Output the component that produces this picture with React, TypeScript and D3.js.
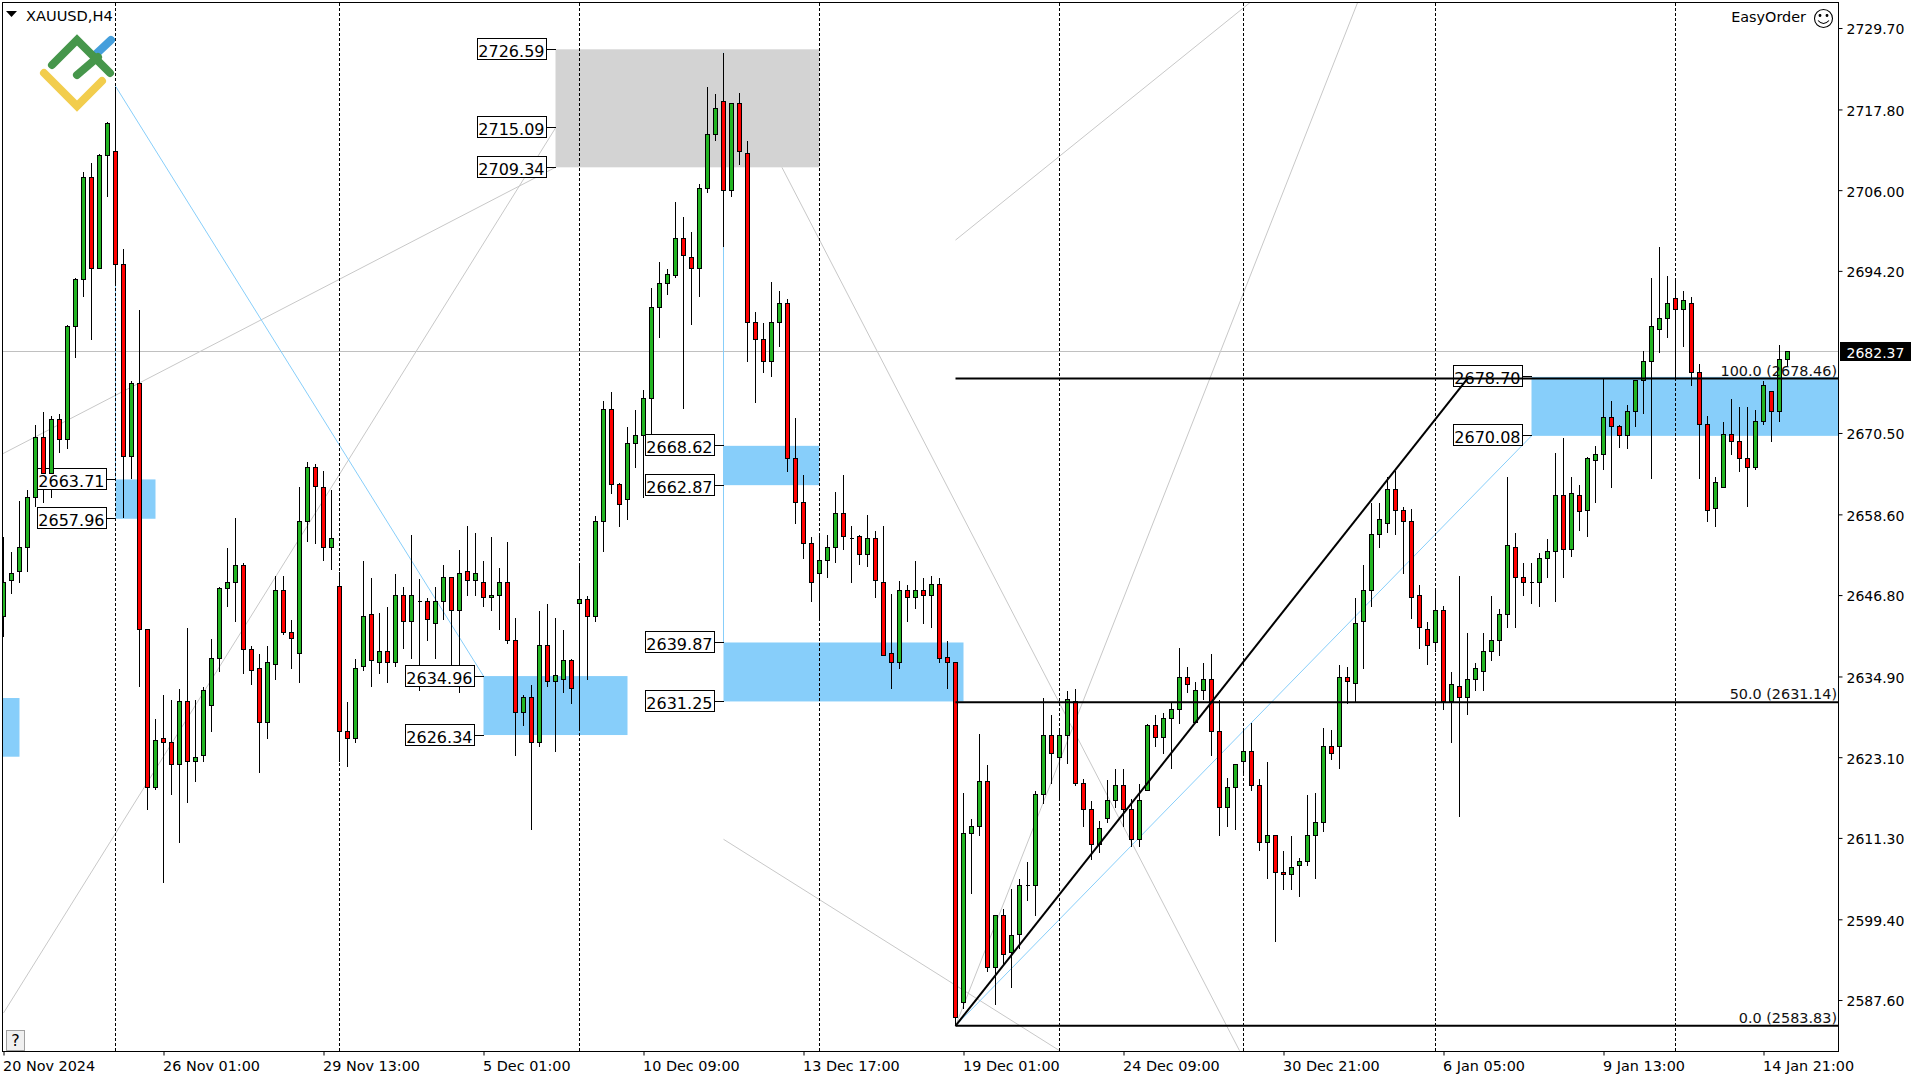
/**
 * XAUUSD H4 candlestick chart with supply/demand zones and a Fibonacci grid
 */

import { useEffect, useRef } from "react";
import * as d3 from "d3";

const highs = [
  2655.4,2653.1,2660.6,2662.3,2671.8,2673.6,2673.1,2673.4,2686.4,2693.2,
  2708.7,2710.1,2711.4,2716.1,2721.2,2697.4,2678.1,2688.6,2641.7,2628.8,
  2632.2,2631.5,2633.1,2642.0,2631.5,2633.5,2640.5,2648.0,2653.8,2658.2,
  2651.6,2639.5,2638.3,2639.5,2649.6,2649.6,2643.2,2662.7,2666.4,2666.0,
  2665.0,2662.3,2650.2,2631.2,2637.6,2651.8,2649.4,2644.3,2645.2,2650.0,
  2648.1,2655.6,2649.2,2646.4,2648.1,2651.3,2649.3,2653.5,2657.0,2655.9,
  2651.8,2655.4,2650.9,2654.6,2643.5,2632.3,2633.8,2644.5,2645.6,2643.5,
  2641.7,2637.5,2651.1,2646.7,2658.5,2675.3,2676.5,2663.3,2671.5,2673.9,
  2676.9,2691.8,2695.6,2694.5,2704.4,2702.1,2699.9,2706.9,2721.1,2720.1,
  2726.1,2718.6,2720.3,2713.3,2688.2,2686.7,2692.7,2691.3,2690.2,2672.8,
  2664.5,2655.3,2655.6,2655.6,2662.0,2664.4,2657.0,2655.7,2658.6,2656.3,
  2657.0,2647.0,2649.0,2648.3,2651.8,2649.4,2649.7,2649.4,2640.1,2636.9,
  2618.0,2614.2,2626.5,2622.0,2600.0,2601.0,2603.9,2605.4,2607.8,2618.3,
  2631.9,2629.4,2627.4,2632.9,2633.2,2620.0,2616.7,2613.8,2619.9,2621.5,
  2621.5,2617.1,2619.3,2628.0,2629.3,2629.6,2631.2,2639.1,2636.3,2634.2,
  2637.0,2638.2,2631.6,2620.2,2622.2,2627.1,2628.1,2620.0,2622.5,2611.6,
  2609.5,2611.6,2608.5,2617.7,2617.9,2627.5,2627.2,2636.6,2636.4,2646.4,
  2651.2,2660.4,2660.4,2664.1,2665.0,2659.7,2659.4,2648.3,2643.0,2647.4,
  2645.3,2635.7,2649.6,2641.3,2637.0,2641.3,2646.7,2644.9,2664.2,2656.0,
  2651.5,2651.5,2653.0,2655.1,2667.6,2669.8,2664.1,2663.0,2667.0,2668.6,
  2678.4,2675.3,2671.7,2674.7,2678.2,2682.6,2693.3,2697.8,2693.5,2693.2,
  2691.3,2690.4,2680.7,2673.0,2664.1,2672.2,2675.5,2674.4,2674.3,2674.0,
  2678.2,2676.5,2683.4,2682.5,
];

const lows = [
  2640.7,2647.1,2648.7,2650.3,2659.8,2660.3,2661.1,2667.7,2668.2,2681.5,
  2690.4,2684.2,2694.6,2705.0,2692.1,2658.1,2663.8,2633.5,2615.5,2618.4,
  2604.8,2617.7,2610.7,2616.5,2619.5,2622.5,2626.9,2635.7,2645.1,2643.0,
  2635.3,2633.8,2620.8,2625.8,2634.5,2641.0,2636.1,2634.0,2654.6,2654.4,
  2651.8,2650.6,2622.5,2621.7,2625.2,2635.8,2633.4,2635.3,2634.0,2636.3,
  2639.0,2637.6,2632.9,2640.1,2637.5,2643.2,2636.6,2632.5,2646.8,2646.8,
  2645.1,2644.5,2641.8,2639.7,2623.4,2627.8,2612.6,2624.7,2633.4,2624.0,
  2632.5,2630.9,2627.4,2634.5,2643.0,2653.2,2661.7,2656.8,2657.9,2665.5,
  2661.1,2669.9,2684.4,2690.7,2693.3,2674.1,2686.4,2690.4,2705.6,2713.3,
  2697.7,2705.1,2709.7,2681.0,2675.0,2679.3,2678.8,2683.2,2664.9,2657.3,
  2652.1,2645.9,2643.3,2649.4,2651.6,2653.4,2648.6,2651.3,2651.0,2646.4,
  2637.9,2633.2,2636.0,2643.0,2644.9,2642.7,2642.1,2637.0,2633.1,2583.83,
  2586.3,2603.2,2611.6,2591.7,2586.9,2592.7,2589.5,2595.2,2602.2,2600.0,
  2616.3,2619.3,2617.1,2622.2,2619.0,2612.9,2608.2,2609.2,2613.5,2615.8,
  2613.0,2610.1,2610.0,2618.2,2624.7,2623.6,2621.5,2628.0,2632.5,2628.2,
  2631.5,2623.4,2611.6,2612.9,2612.6,2620.9,2618.3,2609.4,2605.4,2596.1,
  2603.7,2603.8,2602.7,2607.3,2605.4,2612.3,2622.8,2621.5,2630.9,2631.2,
  2636.1,2645.1,2653.7,2656.0,2655.7,2649.9,2643.4,2639.0,2636.7,2638.5,
  2630.1,2625.2,2614.4,2629.4,2632.9,2632.9,2637.2,2638.0,2642.0,2642.1,
  2646.8,2645.6,2645.1,2649.4,2645.8,2649.3,2652.4,2656.2,2655.4,2660.4,
  2665.1,2662.5,2668.4,2668.3,2671.4,2673.4,2663.9,2682.3,2684.4,2678.5,
  2683.1,2677.4,2663.8,2657.6,2656.8,2662.6,2667.3,2664.8,2659.8,2665.2,
  2671.8,2669.2,2672.2,2680.4,
];

const opens = [
  2643.6,2649.0,2650.3,2653.7,2661.1,2669.9,2664.6,2672.4,2669.6,2686.0,
  2692.9,2707.9,2694.6,2711.0,2711.7,2695.2,2667.0,2677.7,2641.7,2618.7,
  2625.8,2625.3,2622.0,2631.3,2622.5,2623.3,2630.7,2637.5,2647.7,2648.7,
  2651.1,2638.9,2636.1,2628.1,2636.7,2647.5,2641.3,2638.2,2657.5,2665.4,
  2662.6,2653.8,2648.0,2626.9,2625.9,2636.3,2643.9,2636.9,2638.5,2636.9,
  2646.8,2642.9,2645.9,2645.9,2642.7,2645.8,2649.3,2644.5,2650.3,2648.9,
  2648.7,2646.4,2646.7,2648.7,2640.1,2629.7,2631.9,2625.3,2639.4,2634.2,
  2634.4,2637.3,2645.5,2646.1,2643.7,2657.6,2674.0,2663.0,2660.8,2669.0,
  2670.1,2675.5,2688.9,2692.4,2693.5,2698.9,2696.2,2694.6,2706.3,2714.1,
  2719.0,2705.9,2718.6,2711.4,2686.7,2684.2,2680.9,2686.6,2689.5,2666.7,
  2660.4,2654.4,2649.9,2651.9,2653.7,2658.8,2655.1,2655.3,2652.8,2655.0,
  2648.7,2638.2,2636.9,2647.4,2646.5,2647.4,2646.8,2648.4,2637.7,2636.9,
  2587.3,2611.9,2612.9,2619.5,2592.4,2599.9,2594.6,2597.2,2604.3,2604.3,
  2617.6,2626.2,2623.0,2626.2,2631.2,2619.3,2615.5,2610.4,2614.1,2616.8,
  2619.0,2615.4,2611.0,2618.2,2627.7,2626.0,2628.7,2630.0,2634.7,2628.2,
  2632.9,2634.5,2626.8,2615.7,2618.6,2622.4,2623.9,2619.0,2610.6,2611.6,
  2606.3,2606.0,2607.2,2607.9,2611.7,2613.5,2624.7,2624.6,2634.7,2633.9,
  2642.9,2647.5,2655.6,2657.2,2662.3,2659.2,2657.6,2646.7,2641.8,2639.8,
  2644.5,2631.2,2633.5,2631.8,2634.4,2635.6,2638.6,2640.2,2644.0,2653.8,
  2649.3,2648.7,2648.6,2652.1,2653.1,2661.3,2653.4,2661.3,2659.1,2666.5,
  2667.4,2672.8,2671.5,2670.2,2673.6,2678.1,2680.9,2685.6,2687.2,2690.1,
  2688.5,2689.5,2679.4,2671.7,2659.4,2662.6,2670.3,2669.2,2666.8,2665.4,
  2672.2,2676.5,2673.6,2681.2,
];

const closes = [
  2648.7,2650.0,2653.7,2661.1,2669.9,2664.6,2672.4,2669.6,2686.0,2692.9,
  2707.8,2694.5,2711.0,2715.8,2695.2,2667.0,2677.7,2641.7,2618.7,2625.5,
  2625.3,2622.0,2631.3,2622.5,2623.1,2632.9,2637.6,2647.7,2648.7,2651.1,
  2638.9,2635.8,2628.1,2636.9,2647.5,2641.3,2640.5,2657.5,2665.4,2662.7,
  2653.8,2655.1,2626.9,2625.9,2636.0,2643.6,2637.2,2638.6,2636.9,2646.8,
  2642.9,2646.7,2645.9,2643.3,2645.8,2649.3,2644.5,2650.0,2648.9,2649.9,
  2646.4,2646.8,2648.7,2640.1,2629.7,2631.9,2625.3,2639.4,2634.2,2635.0,
  2637.3,2633.2,2646.1,2643.7,2657.5,2673.9,2663.0,2660.1,2668.9,2670.1,
  2675.5,2688.9,2692.4,2693.6,2698.9,2696.4,2694.6,2706.3,2714.1,2717.9,
  2705.9,2718.6,2711.6,2686.6,2684.2,2680.9,2686.6,2689.5,2666.7,2660.4,
  2654.4,2648.6,2651.9,2653.7,2658.8,2655.3,2655.1,2652.7,2655.0,2648.9,
  2638.0,2636.9,2647.4,2646.5,2647.4,2646.8,2648.4,2637.6,2636.9,2585.0,
  2611.9,2613.0,2619.5,2592.4,2599.9,2594.3,2597.1,2604.4,2604.3,2617.7,
  2626.2,2623.6,2626.2,2631.5,2619.3,2615.5,2610.4,2612.7,2616.8,2618.9,
  2615.4,2611.0,2616.7,2627.7,2626.0,2628.7,2630.0,2634.7,2633.8,2632.9,
  2634.5,2626.9,2615.7,2618.6,2622.0,2624.0,2619.0,2610.6,2611.6,2606.3,
  2605.9,2607.0,2607.9,2611.7,2613.5,2624.7,2623.6,2634.7,2634.1,2642.7,
  2647.5,2655.6,2657.9,2662.3,2659.2,2657.6,2646.4,2642.0,2639.4,2644.5,
  2631.2,2633.7,2631.8,2634.4,2636.0,2638.6,2640.2,2643.9,2654.1,2649.3,
  2648.7,2648.7,2652.1,2653.1,2661.3,2653.4,2661.7,2659.0,2666.7,2667.4,
  2672.8,2671.5,2670.2,2673.6,2678.1,2681.0,2686.0,2687.2,2689.4,2688.5,
  2689.8,2679.4,2671.8,2659.2,2663.2,2670.3,2669.2,2666.7,2665.4,2672.2,
  2677.4,2673.6,2681.2,2682.37,
];

const priceTicks = [2729.7, 2717.8, 2706.0, 2694.2, 2670.5, 2658.6, 2646.8, 2634.9, 2623.1, 2611.3, 2599.4, 2587.6];
const bidPrice = 2682.37;

const timeTickBars = [0, 20, 40, 60, 80, 100, 120, 140, 160, 180, 200, 220];
const timeTickLabels = [
  "20 Nov 2024", "26 Nov 01:00", "29 Nov 13:00", "5 Dec 01:00", "10 Dec 09:00", "13 Dec 17:00",
  "19 Dec 01:00", "24 Dec 09:00", "30 Dec 21:00", "6 Jan 05:00", "9 Jan 13:00", "14 Jan 21:00",
];

// Period separators, as bar numbers
const separatorBars = [14, 42, 72, 102, 132, 155, 179, 209];

// Zones: first bar, last bar, upper price, lower price, labelled prices
const blueZones = [
  { from: -4, to: 2, top: 2631.75, bottom: 2623.17, labels: [] as number[] },
  { from: 14, to: 19, top: 2663.71, bottom: 2657.96, labels: [2663.71, 2657.96] },
  { from: 60, to: 78, top: 2634.96, bottom: 2626.34, labels: [2634.96, 2626.34] },
  { from: 90, to: 102, top: 2668.62, bottom: 2662.87, labels: [2668.62, 2662.87] },
  { from: 90, to: 120, top: 2639.87, bottom: 2631.25, labels: [2639.87, 2631.25] },
  { from: 191, to: 232, top: 2678.7, bottom: 2670.08, labels: [2678.7, 2670.08] },
];
const grayZones = [
  { from: 69, to: 102, top: 2726.59, bottom: 2709.34, labels: [2726.59, 2715.09, 2709.34] },
];

// Trend lines: [bar, price, bar, price]
const silverLines = [
  [-0.2, 2667.4, 69, 2709.34],
  [0, 2585.7, 69, 2715.09],
  [97.3, 2709.34, 154.5, 2580.2],
  [119, 2583.83, 169.25, 2733.4],
  [119, 2698.7, 156, 2733.6],
  [90, 2611.1, 132, 2580.2],
];
const blueLines = [
  [14, 2721.2, 60, 2634.96],
  [14, 2721.2, 14, 2663.71],
  [90, 2726.1, 90, 2639.87],
  [119, 2583.83, 191, 2670.08],
];
const fibLevels = [
  { name: "100.0", price: 2678.46 },
  { name: "50.0", price: 2631.14 },
  { name: "0.0", price: 2583.83 },
];
const fibStartBar = 119;
const fibTrend = [119, 2583.83, 183, 2678.46];

const FONT = "'DejaVu Sans', sans-serif";
const GREEN = "#22b422";
const RED = "#ff0000";
const ZONE_BLUE = "#87cefa";
const ZONE_GRAY = "#d3d3d3";
const SILVER = "#c8c8c8";

export default function App() {
  const svgRef = useRef<SVGSVGElement>(null);

  useEffect(() => {
    if (!svgRef.current) return;
    const svg = d3.select(svgRef.current);
    svg.selectAll("*").remove();

    const plot = { left: 2.5, right: 1838.5, top: 2.5, bottom: 1051.5 };
    const x = d3.scaleLinear().domain([0, 223]).range([3.5, 1787.5]);
    const y = d3.scaleLinear().domain([2733.8, 2580]).range([0, 1052]);
    const py = (p: number) => Math.round(y(p) - 0.5) + 0.5;

    svg.append("defs").append("clipPath").attr("id", "plot-clip")
      .append("rect")
      .attr("x", plot.left).attr("y", plot.top)
      .attr("width", plot.right - plot.left).attr("height", plot.bottom - plot.top);

    const g = svg.append("g").attr("clip-path", "url(#plot-clip)");

    const drawTrend = (sel: any, rows: number[][], color: string, width: number) => {
      sel.selectAll(null).data(rows).join("line")
        .attr("x1", (d: number[]) => x(d[0])).attr("y1", (d: number[]) => y(d[1]))
        .attr("x2", (d: number[]) => x(d[2])).attr("y2", (d: number[]) => y(d[3]))
        .attr("stroke", color).attr("stroke-width", width);
    };

    // Bid line and light trend lines sit at the back
    g.append("line")
      .attr("x1", plot.left).attr("x2", plot.right)
      .attr("y1", py(bidPrice)).attr("y2", py(bidPrice))
      .attr("stroke", "#c0c0c0").attr("shape-rendering", "crispEdges");
    drawTrend(g, silverLines, SILVER, 1);

    // Zones
    const drawZones = (rows: typeof blueZones, color: string) => {
      g.selectAll(null).data(rows).join("rect")
        .attr("x", (d) => x(d.from))
        .attr("y", (d) => y(d.top))
        .attr("width", (d) => x(d.to) - x(d.from))
        .attr("height", (d) => y(d.bottom) - y(d.top))
        .attr("fill", color);
    };
    drawZones(grayZones, ZONE_GRAY);
    drawZones(blueZones, ZONE_BLUE);
    drawTrend(g, blueLines, ZONE_BLUE, 1);

    // Period separators
    g.selectAll(null).data(separatorBars).join("line")
      .attr("x1", (d) => x(d)).attr("x2", (d) => x(d))
      .attr("y1", plot.top).attr("y2", plot.bottom)
      .attr("stroke", "#000").attr("stroke-dasharray", "3,2")
      .attr("shape-rendering", "crispEdges");

    // Wicks
    g.append("g").selectAll("line").data(highs).join("line")
      .attr("x1", (_, i) => x(i)).attr("x2", (_, i) => x(i))
      .attr("y1", (d) => py(d)).attr("y2", (_, i) => py(lows[i]))
      .attr("stroke", "#000").attr("shape-rendering", "crispEdges");

    // Label boxes go over the wicks but under the candle bodies
    const labelled = [...blueZones, ...grayZones].flatMap((z) =>
      z.labels.map((price) => ({ price, right: x(z.from) - 10, edge: x(z.from) }))
    );
    const boxW = 69;
    const boxH = 21;
    g.selectAll(null).data(labelled).join("rect")
      .attr("x", (d) => Math.round(d.right - boxW) + 0.5)
      .attr("y", (d) => py(d.price) - Math.round(boxH / 2))
      .attr("width", boxW).attr("height", boxH)
      .attr("fill", "#fff").attr("stroke", "#000").attr("shape-rendering", "crispEdges");
    g.selectAll(null).data(labelled).join("line")
      .attr("x1", (d) => d.right).attr("x2", (d) => d.edge)
      .attr("y1", (d) => py(d.price)).attr("y2", (d) => py(d.price))
      .attr("stroke", "#000").attr("shape-rendering", "crispEdges");

    // Candle bodies
    g.append("g").selectAll("path").data(opens).join("path")
      .attr("d", (d, i) => {
        const top = py(Math.max(d, closes[i]));
        const bottom = py(Math.min(d, closes[i]));
        return `M${x(i) - 2},${top}h4V${bottom}h-4Z`;
      })
      .attr("fill", (d, i) => (closes[i] >= d ? GREEN : RED))
      .attr("stroke", "#000").attr("shape-rendering", "crispEdges");

    // Fibonacci grid
    g.selectAll(null).data(fibLevels).join("line")
      .attr("x1", x(fibStartBar)).attr("x2", plot.right)
      .attr("y1", (d) => y(d.price)).attr("y2", (d) => y(d.price))
      .attr("stroke", "#000").attr("stroke-width", 2);
    drawTrend(g, [fibTrend], "#000", 2);

    const texts = svg.append("g").attr("font-family", FONT).attr("fill", "#000");

    texts.selectAll(null).data(fibLevels).join("text")
      .attr("x", plot.right - 1.5)
      .attr("y", (d) => y(d.price) - 3)
      .attr("text-anchor", "end")
      .attr("font-size", 14.4)
      .attr("fill", "#111")
      .text((d) => `${d.name} (${d.price.toFixed(2)})`);

    texts.selectAll(null).data(labelled).join("text")
      .attr("x", (d) => d.right - 1)
      .attr("y", (d) => py(d.price) + 7)
      .attr("text-anchor", "end")
      .attr("font-size", 16)
      .text((d) => d.price.toFixed(2));

    // Frame
    svg.append("rect")
      .attr("x", plot.left).attr("y", plot.top)
      .attr("width", plot.right - plot.left).attr("height", plot.bottom - plot.top)
      .attr("fill", "none").attr("stroke", "#000").attr("shape-rendering", "crispEdges");

    // Price axis
    const priceAxis = svg.append("g")
      .attr("transform", `translate(${plot.right},0)`)
      .call(
        d3.axisRight(y)
          .tickValues(priceTicks)
          .tickSize(4)
          .tickPadding(4)
          .tickFormat((d) => (d as number).toFixed(2))
      );
    priceAxis.select(".domain").remove();
    priceAxis.selectAll("text")
      .attr("font-family", FONT).attr("font-size", 14).attr("fill", "#000")
      .attr("dy", "0.42em");

    svg.append("rect")
      .attr("x", 1840).attr("y", py(bidPrice) - 9.5)
      .attr("width", 71).attr("height", 19).attr("fill", "#000");
    svg.append("text")
      .attr("x", 1846.5).attr("y", py(bidPrice) + 6)
      .attr("font-family", FONT).attr("font-size", 14).attr("fill", "#fff")
      .text(bidPrice.toFixed(2));

    // Time axis
    const timeAxis = svg.append("g")
      .attr("transform", `translate(0,${plot.bottom})`)
      .call(
        d3.axisBottom(x)
          .tickValues(timeTickBars)
          .tickSize(4)
          .tickPadding(4)
          .tickFormat((_, i) => timeTickLabels[i])
      );
    timeAxis.select(".domain").remove();
    timeAxis.selectAll("text")
      .attr("font-family", FONT).attr("font-size", 14.4).attr("fill", "#000")
      .attr("text-anchor", "start").attr("dx", -1).attr("dy", "0.78em");

    // Symbol header
    svg.append("path").attr("d", "M6,11L17,11L11.5,17Z").attr("fill", "#000");
    svg.append("text")
      .attr("x", 26).attr("y", 21)
      .attr("font-family", FONT).attr("font-size", 14.6).attr("fill", "#000")
      .text("XAUUSD,H4");

    // Broker logo
    const logo = svg.append("g")
      .attr("fill", "none").attr("stroke-width", 8)
      .attr("stroke-linecap", "round").attr("stroke-linejoin", "miter");
    logo.append("path").attr("d", "M95,55L111,40").attr("stroke", "#459fdc");
    logo.append("path").attr("d", "M52,65L77,40L110,73").attr("stroke", "#46964b");
    logo.append("path").attr("d", "M77,75L98,57").attr("stroke", "#46964b");
    logo.append("path").attr("d", "M44,73L77,106L102,81").attr("stroke", "#f2cd4d");

    // EasyOrder badge
    svg.append("text")
      .attr("x", 1806).attr("y", 21.5).attr("text-anchor", "end")
      .attr("font-family", FONT).attr("font-size", 14.4).attr("fill", "#000")
      .text("EasyOrder");
    const smile = svg.append("g").attr("fill", "none").attr("stroke", "#000").attr("stroke-width", 1.1);
    smile.append("circle").attr("cx", 1823.5).attr("cy", 18.5).attr("r", 9);
    smile.append("circle").attr("cx", 1820).attr("cy", 15.5).attr("r", 0.9).attr("fill", "#000");
    smile.append("circle").attr("cx", 1827).attr("cy", 15.5).attr("r", 0.9).attr("fill", "#000");
    smile.append("path").attr("d", "M1818,20.5Q1823.5,26.5 1829,20.5");

    // Help button
    svg.append("rect")
      .attr("x", 6.5).attr("y", 1030.5).attr("width", 18).attr("height", 20)
      .attr("fill", "#f0f0f0").attr("stroke", "#a0a0a0").attr("shape-rendering", "crispEdges");
    svg.append("text")
      .attr("x", 15.5).attr("y", 1046).attr("text-anchor", "middle")
      .attr("font-family", FONT).attr("font-size", 16).attr("fill", "#000")
      .text("?");
  }, []);

  return (
    <svg
      ref={svgRef}
      width={1920}
      height={1080}
      viewBox="0 0 1920 1080"
      style={{ position: "fixed", left: 0, top: 0, background: "#fff" }}
    />
  );
}
